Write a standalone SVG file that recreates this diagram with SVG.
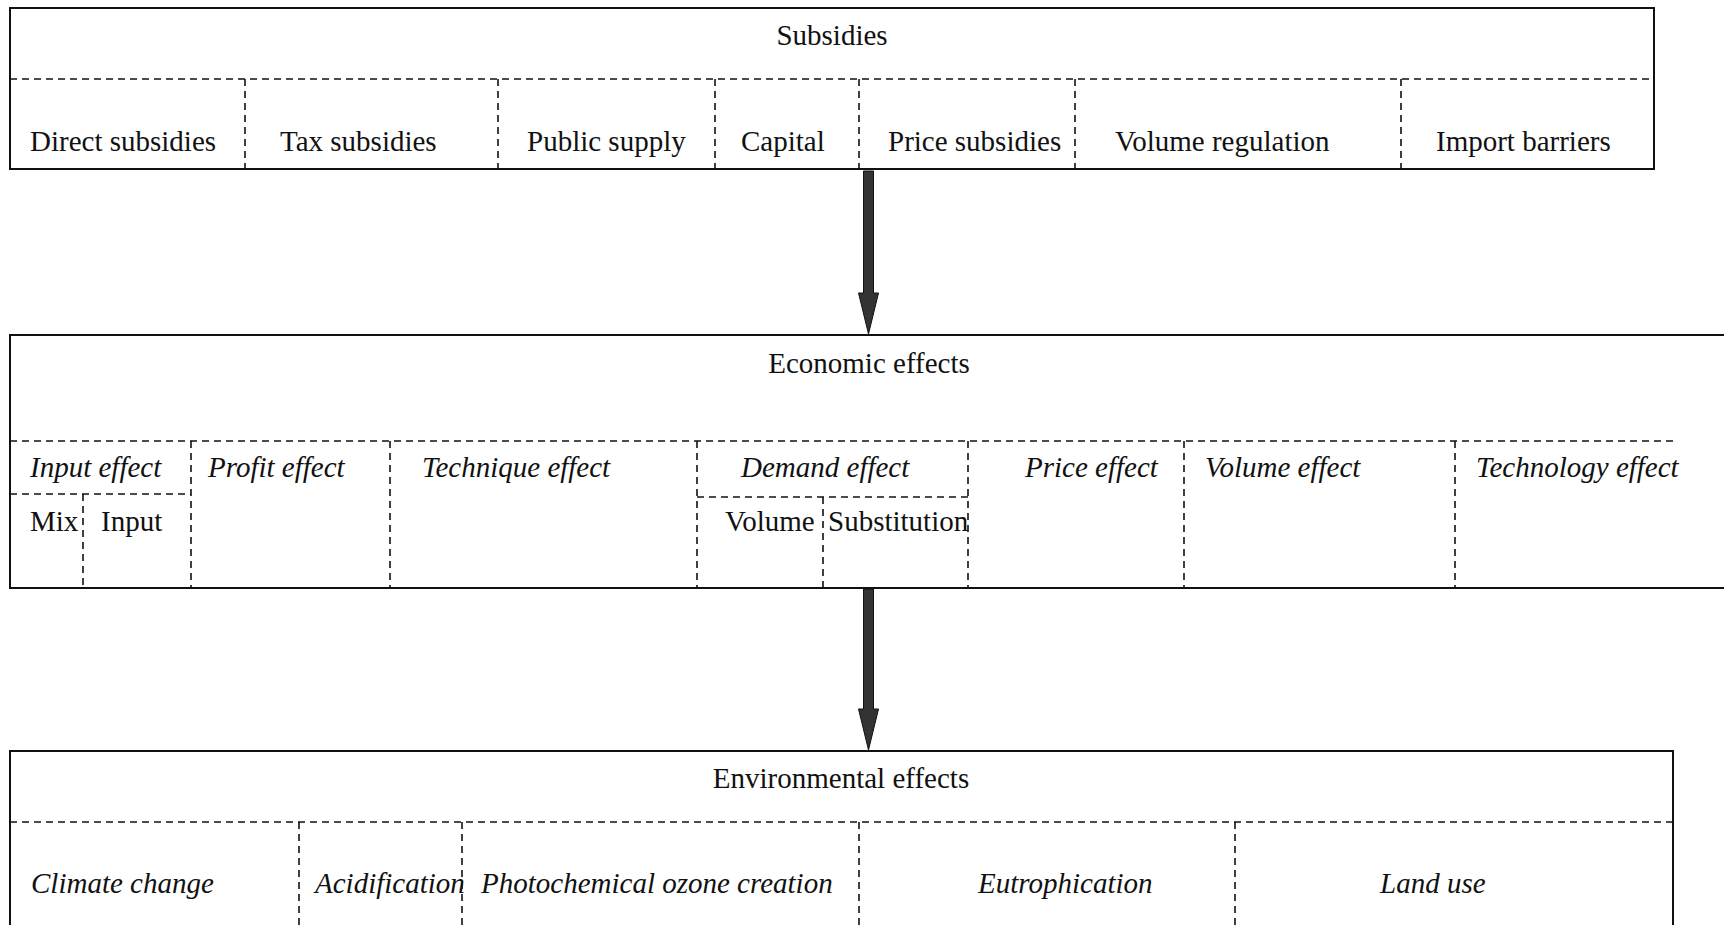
<svg xmlns="http://www.w3.org/2000/svg" width="1724" height="925" viewBox="0 0 1724 925">
<style>
.box{fill:none;stroke:#111;stroke-width:2}
.dash{fill:none;stroke:#111;stroke-width:1.6;stroke-dasharray:7,5}
.t{font-family:"Liberation Serif","Times New Roman",serif;font-size:29px;fill:#111}
.i{font-style:italic}
.mid{text-anchor:middle}
.arrow{fill:#333;stroke:#111;stroke-width:1}
</style>
<rect width="1724" height="925" fill="#fff"/>
<g id="subsidies">
<rect class="box" x="10" y="8" width="1644" height="161"/>
<text class="t mid" x="832" y="45">Subsidies</text>
<path class="dash" d="M10 79H1654M245 79V169M498 79V169M715 79V169M859 79V169M1075 79V169M1401 79V169"/>
<g id="subsidy-types">
<text class="t" x="30" y="151">Direct subsidies</text>
<text class="t" x="280" y="151">Tax subsidies</text>
<text class="t" x="527" y="151">Public supply</text>
<text class="t" x="741" y="151">Capital</text>
<text class="t" x="888" y="151">Price subsidies</text>
<text class="t" x="1115" y="151">Volume regulation</text>
<text class="t" x="1436" y="151">Import barriers</text>
</g>
</g>
<g id="economic-effects">
<rect class="box" x="10" y="335" width="1740" height="253"/>
<text class="t mid" x="869" y="373">Economic effects</text>
<path class="dash" d="M10 441H1673M10 494H191M191 441V588M83 494V588M390 441V588M697 441V588M697 497H968M968 441V588M823 497V588M1184 441V588M1455 441V588"/>
<g id="economic-types">
<text class="t i" x="30" y="477">Input effect</text>
<text class="t" x="30" y="531">Mix</text>
<text class="t" x="101" y="531">Input</text>
<text class="t i" x="208" y="477">Profit effect</text>
<text class="t i" x="422" y="477">Technique effect</text>
<text class="t i" x="741" y="477">Demand effect</text>
<text class="t" x="725" y="531">Volume</text>
<text class="t" x="828" y="531">Substitution</text>
<text class="t i" x="1025" y="477">Price effect</text>
<text class="t i" x="1205" y="477">Volume effect</text>
<text class="t i" x="1476" y="477">Technology effect</text>
</g>
</g>
<g id="environmental-effects">
<rect class="box" x="10" y="751" width="1663" height="200"/>
<text class="t mid" x="841" y="788">Environmental effects</text>
<path class="dash" d="M10 822H1673M299 822V925M462 822V925M859 822V925M1235 822V925"/>
<g id="environmental-types">
<text class="t i" x="31" y="893">Climate change</text>
<text class="t i" x="315" y="893">Acidification</text>
<text class="t i" x="481" y="893">Photochemical ozone creation</text>
<text class="t i" x="978" y="893">Eutrophication</text>
<text class="t i" x="1380" y="893">Land use</text>
</g>
</g>
<g id="connectors">
<polygon class="arrow" points="863.5,171 873.5,171 873.5,293 878.5,293 868.5,334 858.5,293 863.5,293"/>
<polygon class="arrow" points="863.5,589 873.5,589 873.5,709 878.5,709 868.5,750 858.5,709 863.5,709"/>
</g>
</svg>
